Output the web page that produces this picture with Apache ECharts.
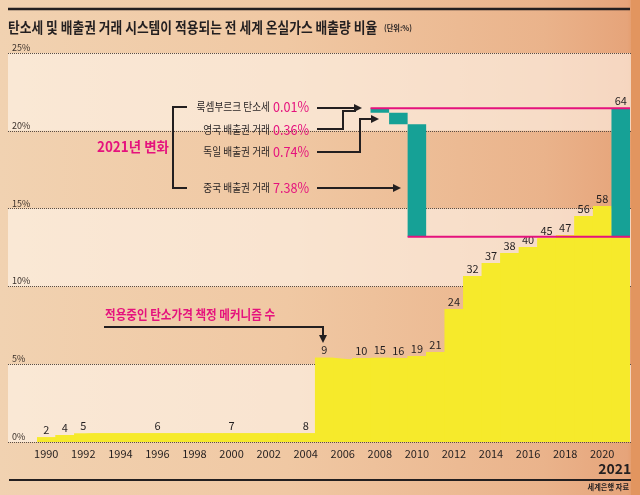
<!DOCTYPE html>
<html><head><meta charset="utf-8">
<script src="https://cdn.jsdelivr.net/npm/echarts@6/dist/echarts.min.js"></script>
<style>html,body{margin:0;padding:0;background:#efc6a0;}#c{width:640px;height:495px;}</style>
</head><body><div id="c"></div>
<script>
// ---- data ----
const years = ['1990','1991','1992','1993','1994','1995','1996','1997','1998','1999','2000','2001','2002','2003','2004','2005','2006','2007','2008','2009','2010','2011','2012','2013','2014','2015','2016','2017','2018','2019','2020','2021'];
const shareOfEmissions = [0.30,0.45,0.56,0.56,0.56,0.56,0.56,0.56,0.56,0.56,0.56,0.56,0.56,0.56,0.56,5.42,5.31,5.40,5.42,5.40,5.53,5.78,8.55,10.67,11.50,12.15,12.53,13.10,13.30,14.52,15.17,13.16];
const mechanismCounts = [2,4,5,null,null,null,6,null,null,null,7,null,null,null,8,9,null,10,15,16,19,21,24,32,37,38,40,45,47,56,58,64];
const yTicks = [0,5,10,15,20,25];
const changeYears = ['2008','2009','2010','2021'];
const changeBase = [21.16,20.42,13.19,13.16];
const changeSize = [0.29,0.74,7.23,8.29];
const changeNames = ['룩셈부르크 탄소세','영국 배출권 거래','독일 배출권 거래','중국 배출권 거래'];
const changeValues = ['0.01%','0.36%','0.74%','7.38%'];
const titleText = '탄소세 및 배출권 거래 시스템이 적용되는 전 세계 온실가스 배출량 비율';

const FONT = '"Noto Sans CJK KR", "Noto Sans", sans-serif';
const DARK = '#231f20', PINK = '#e5127d', TEAL = '#16a196', YELLOW = '#f6ea2b';

const baseData = years.map(y => { const k = changeYears.indexOf(y); return k < 0 ? null : changeBase[k]; });
const tealData = years.map(y => { const k = changeYears.indexOf(y); return k < 0 ? null : changeSize[k]; });
const lastIdx = years.length - 1;
const topLine = changeBase[0] + changeSize[0];
const botLine = changeBase[2];
// step outline of the same share values, keyed by each year's left edge (fills seams between bars)
const stepData = years.map((y, i) => [Number(y) - 0.5, shareOfEmissions[i]])
  .concat([[Number(years[lastIdx]) + 0.5, shareOfEmissions[lastIdx]]]);

const chart = echarts.init(document.getElementById('c'), null, {renderer:'canvas'});

function txt(x, y, text, font, fill, align, scaleX) {
  return {type:'text', x:x, y:y, scaleX: scaleX || 1, silent:true, zlevel:1, z:50,
    style:{text:text, x:0, y:0, font:font, fill:fill, textAlign:align||'left', textVerticalAlign:'middle'}};
}
function pl(points, w) {
  return {type:'polyline', silent:true, zlevel:1, z:50, shape:{points:points}, style:{stroke:DARK, lineWidth:w||2, fill:null}};
}
function headRight(x, y) {
  return {type:'polygon', silent:true, zlevel:1, z:51, shape:{points:[[x,y],[x-8,y-4],[x-8,y+4]]}, style:{fill:DARK}};
}
function headDown(x, y) {
  return {type:'polygon', silent:true, zlevel:1, z:51, shape:{points:[[x,y],[x-4,y-8],[x+4,y-8]]}, style:{fill:DARK}};
}

const graphics = [
  {type:'rect', silent:true, zlevel:0, z:-10, shape:{x:0,y:0,width:640,height:495},
   style:{fill:{type:'linear', x:0, y:0, x2:1, y2:0, colorStops:[
     {offset:0, color:'#f1d2b1'},{offset:0.45, color:'#f0c8a3'},{offset:0.85, color:'#eab38b'},{offset:0.98, color:'#e6a47a'},{offset:1, color:'#e0935f'}]}}},
  {type:'rect', silent:true, zlevel:0, z:-9, shape:{x:631,y:0,width:9,height:495}, style:{fill:'#e2955f'}},
  {type:'line', silent:true, zlevel:1, z:50, shape:{x1:8,y1:9,x2:630,y2:9}, style:{stroke:DARK, lineWidth:2.5}},
  {type:'line', silent:true, zlevel:1, z:50, shape:{x1:9,y1:480,x2:631,y2:480}, style:{stroke:DARK, lineWidth:2}},
  txt(8, 27, titleText, 'bold 15px ' + FONT, DARK, 'left', 0.85),
  txt(384, 28, '(단위:%)', 'bold 8px ' + FONT, DARK, 'left', 0.9),
  txt(629, 487, '세계은행 자료', 'bold 8px ' + FONT, DARK, 'right', 0.9),
  txt(97, 147, '2021년 변화', 'bold 14px ' + FONT, PINK, 'left', 0.96),
  pl([[187,107],[173,107],[173,188],[187,188]], 2),
];
const rowY = [107, 130, 152, 188];
for (let i = 0; i < 4; i++) {
  graphics.push(txt(270, rowY[i], changeNames[i], '11px ' + FONT, DARK, 'right', 0.88));
  graphics.push(txt(273, rowY[i], changeValues[i], '14px ' + FONT, PINK, 'left', 0.9));
}
graphics.push(
  pl([[317,108],[356,108]], 2), headRight(362, 108),
  pl([[317,129],[343,129],[343,111],[356,111]], 2),
  pl([[317,152],[360,152],[360,119],[372,119]], 2), headRight(379, 119),
  pl([[317,188],[394,188]], 2), headRight(401, 188),
  txt(105, 314, '적용중인 탄소가격 책정 메커니즘 수', 'bold 13px ' + FONT, PINK, 'left', 0.89),
  pl([[104,327],[323,327],[323,336]], 2), headDown(323, 343)
);

const barLabel = {show:true, position:'top', distance:2, fontSize:11, color:DARK, fontFamily:FONT};

const option = {
  animation: false,
  textStyle: {fontFamily: FONT},
  grid: [
    {left: 8, right: 9, top: 53, bottom: 53},
    {left: 37, right: 10, top: 53, bottom: 53}
  ],
  xAxis: [
    {type:'category', gridIndex:1, data: years, boundaryGap: true,
     axisLine:{show:false}, axisTick:{show:false}, splitLine:{show:false},
     axisLabel:{interval:0, margin:6, fontSize:11, color:DARK, fontFamily:FONT,
       formatter: (v, i) => i === lastIdx ? '\n{big|' + v + '}' : (Number(v) % 2 === 0 ? v : ''),
       rich:{big:{fontSize:14, fontWeight:'bold', color:DARK, fontFamily:FONT, padding:[3,12,0,0]}}}},
    {type:'value', gridIndex:1, min:Number(years[0]) - 0.5, max:Number(years[lastIdx]) + 0.5, show:false},
    {type:'value', gridIndex:0, min:0, max:1, show:false}
  ],
  yAxis: [
    {type:'value', gridIndex:0, min:yTicks[0], max:yTicks[yTicks.length-1], interval:5,
     axisLine:{show:false}, axisTick:{show:false},
     axisLabel:{inside:true, margin:4, verticalAlign:'bottom', fontSize:9, color:'#3a302a', fontFamily:FONT,
       padding:[0,0,1,0], formatter: v => v + '%'},
     splitLine:{show:true, lineStyle:{type:'dotted', color:'#5a4e46', width:1}},
     splitArea:{show:true, areaStyle:{color:['rgba(255,246,236,0.62)','rgba(255,255,255,0)']}}},
    {type:'value', gridIndex:1, min:yTicks[0], max:yTicks[yTicks.length-1], show:false}
  ],
  series: [
    {type:'line', name:'shareArea', xAxisIndex:1, yAxisIndex:1, step:'end', symbol:'none', silent:true, zlevel:1, z:2,
     lineStyle:{width:0, color:YELLOW}, areaStyle:{color:YELLOW, opacity:1}, data: stepData},
    {type:'bar', name:'share', xAxisIndex:0, yAxisIndex:1, barCategoryGap:'0%', barGap:'-100%', zlevel:1,
     itemStyle:{color:YELLOW}, z:3,
     data: shareOfEmissions,
     label:Object.assign({}, barLabel, {
       formatter: p => (p.dataIndex < lastIdx && mechanismCounts[p.dataIndex] != null) ? String(mechanismCounts[p.dataIndex]) : ''})},
    {type:'bar', name:'base', stack:'wf', xAxisIndex:0, yAxisIndex:1, barCategoryGap:'0%', barGap:'-100%', zlevel:1,
     itemStyle:{color:'rgba(0,0,0,0)'}, z:4, data: baseData, silent:true},
    {type:'bar', name:'change', stack:'wf', xAxisIndex:0, yAxisIndex:1, barCategoryGap:'0%', barGap:'-100%', zlevel:1,
     itemStyle:{color:TEAL}, z:4, data: tealData,
     label:Object.assign({}, barLabel, {
       formatter: p => p.dataIndex === lastIdx ? String(mechanismCounts[lastIdx]) : ''})},
    {type:'line', xAxisIndex:1, yAxisIndex:1, symbol:'none', zlevel:1, z:6, silent:true,
     lineStyle:{color:PINK, width:2},
     data:[[Number(changeYears[0]) - 0.5, topLine],[Number(years[lastIdx]) + 0.5, topLine]]},
    {type:'line', xAxisIndex:1, yAxisIndex:1, symbol:'none', zlevel:1, z:6, silent:true,
     lineStyle:{color:PINK, width:2},
     data:[[Number(changeYears[2]) - 0.5, botLine],[Number(years[lastIdx]) + 0.5, botLine]]}
  ],
  graphic: graphics
};
chart.setOption(option);
</script>
</body></html>
